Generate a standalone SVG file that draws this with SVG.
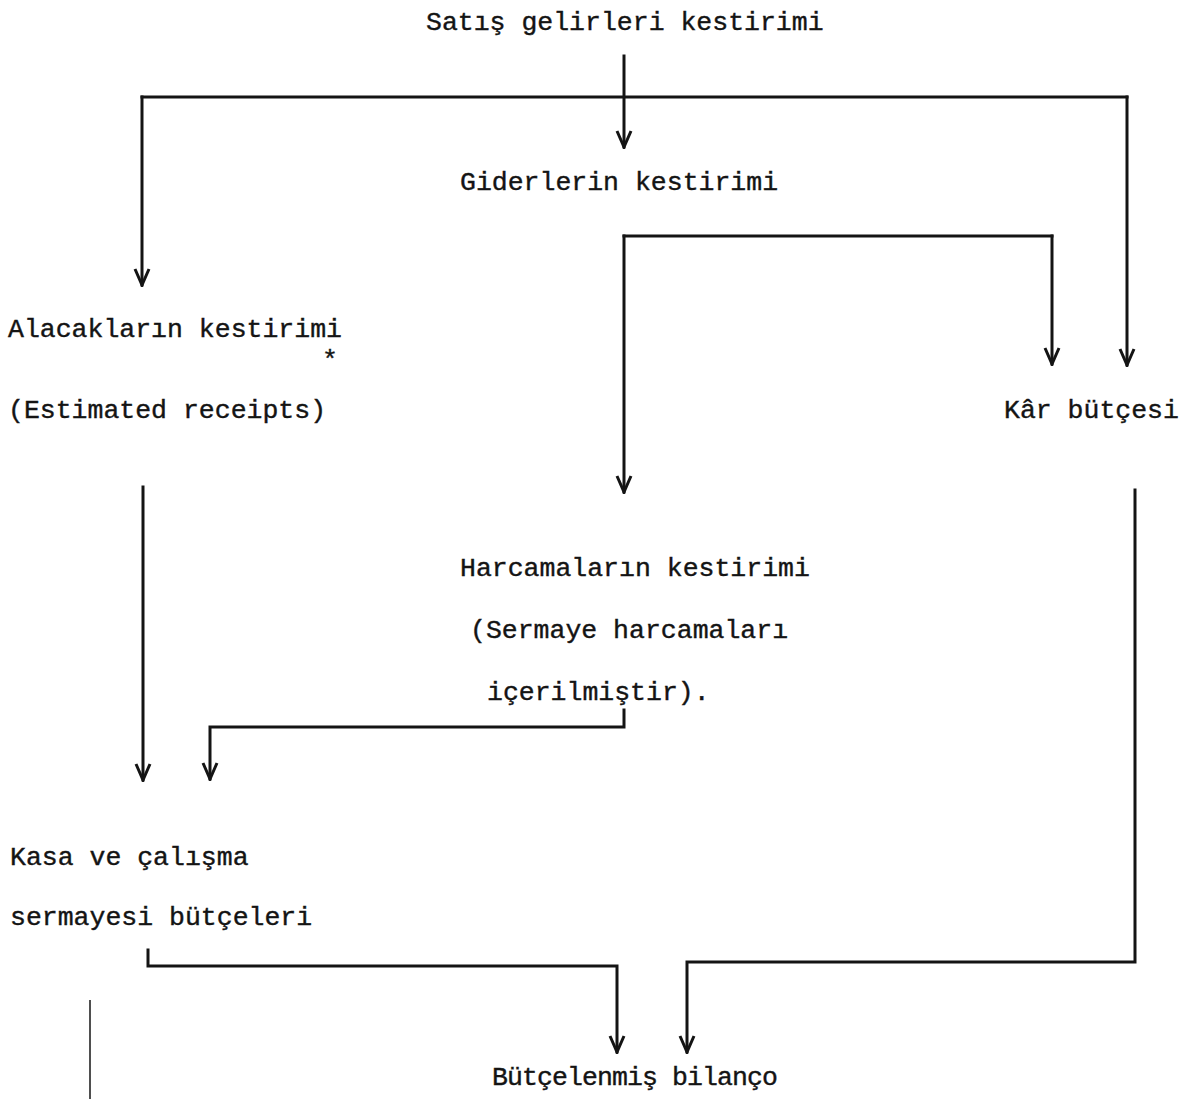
<svg xmlns="http://www.w3.org/2000/svg" width="1186" height="1099" viewBox="0 0 1186 1099">
<style>
  text { font-family: "Liberation Mono", "DejaVu Sans Mono", monospace; font-size: 26.5px; fill: #141414; stroke: #141414; stroke-width: 0.4; }
  .ln { fill: none; stroke: #141414; stroke-width: 3; stroke-linecap: square; stroke-linejoin: miter; }
  .thin { fill: none; stroke: #141414; stroke-width: 1.5; }
</style>
<defs>
  <marker id="ahv" markerWidth="20" markerHeight="20" viewBox="-10 -18 20 20" refX="0" refY="0" orient="0" markerUnits="userSpaceOnUse">
    <path d="M -7 -16 L 0 0 L 7 -16" fill="none" stroke="#141414" stroke-width="3"/>
  </marker>
</defs>
<rect width="1186" height="1099" fill="#ffffff"/>

<g id="connectors">
  <path class="ln" d="M 624 56 L 624 147" marker-end="url(#ahv)"/>
  <path class="ln" d="M 142 97 L 1127 97"/>
  <path class="ln" d="M 142 97 L 142 285" marker-end="url(#ahv)"/>
  <path class="ln" d="M 1127 97 L 1127 365" marker-end="url(#ahv)"/>
  <path class="ln" d="M 624 236 L 1052 236"/>
  <path class="ln" d="M 1052 236 L 1052 364" marker-end="url(#ahv)"/>
  <path class="ln" d="M 624 236 L 624 492" marker-end="url(#ahv)"/>
  <path class="ln" d="M 143 487 L 143 780" marker-end="url(#ahv)"/>
  <path class="ln" d="M 624 710 L 624 727 L 210 727 L 210 779" marker-end="url(#ahv)"/>
  <path class="ln" d="M 148 950 L 148 966 L 617 966 L 617 1052" marker-end="url(#ahv)"/>
  <path class="ln" d="M 1135 490 L 1135 962 L 687 962 L 687 1052" marker-end="url(#ahv)"/>
  <path class="thin" d="M 90 1000 L 90 1099"/>
</g>

<g id="satis"><text x="426" y="30">Satış gelirleri kestirimi</text></g>
<g id="giderler"><text x="460" y="190">Giderlerin kestirimi</text></g>
<g id="alacaklar">
  <text x="8" y="337">Alacakların kestirimi</text>
  <text x="322" y="368" font-size="24" stroke-width="1">*</text>
  <text x="8" y="418">(Estimated receipts)</text>
</g>
<g id="kar"><text x="1004" y="418">Kâr bütçesi</text></g>
<g id="harcamalar">
  <text x="460" y="576">Harcamaların kestirimi</text>
  <text x="470" y="638">(Sermaye harcamaları</text>
  <text x="487" y="700">içerilmiştir).</text>
</g>
<g id="kasa">
  <text x="10" y="865">Kasa ve çalışma</text>
  <text x="10" y="925">sermayesi bütçeleri</text>
</g>
<g id="bilanco"><text x="492" y="1085" textLength="286" lengthAdjust="spacing">Bütçelenmiş bilanço</text></g>
</svg>
